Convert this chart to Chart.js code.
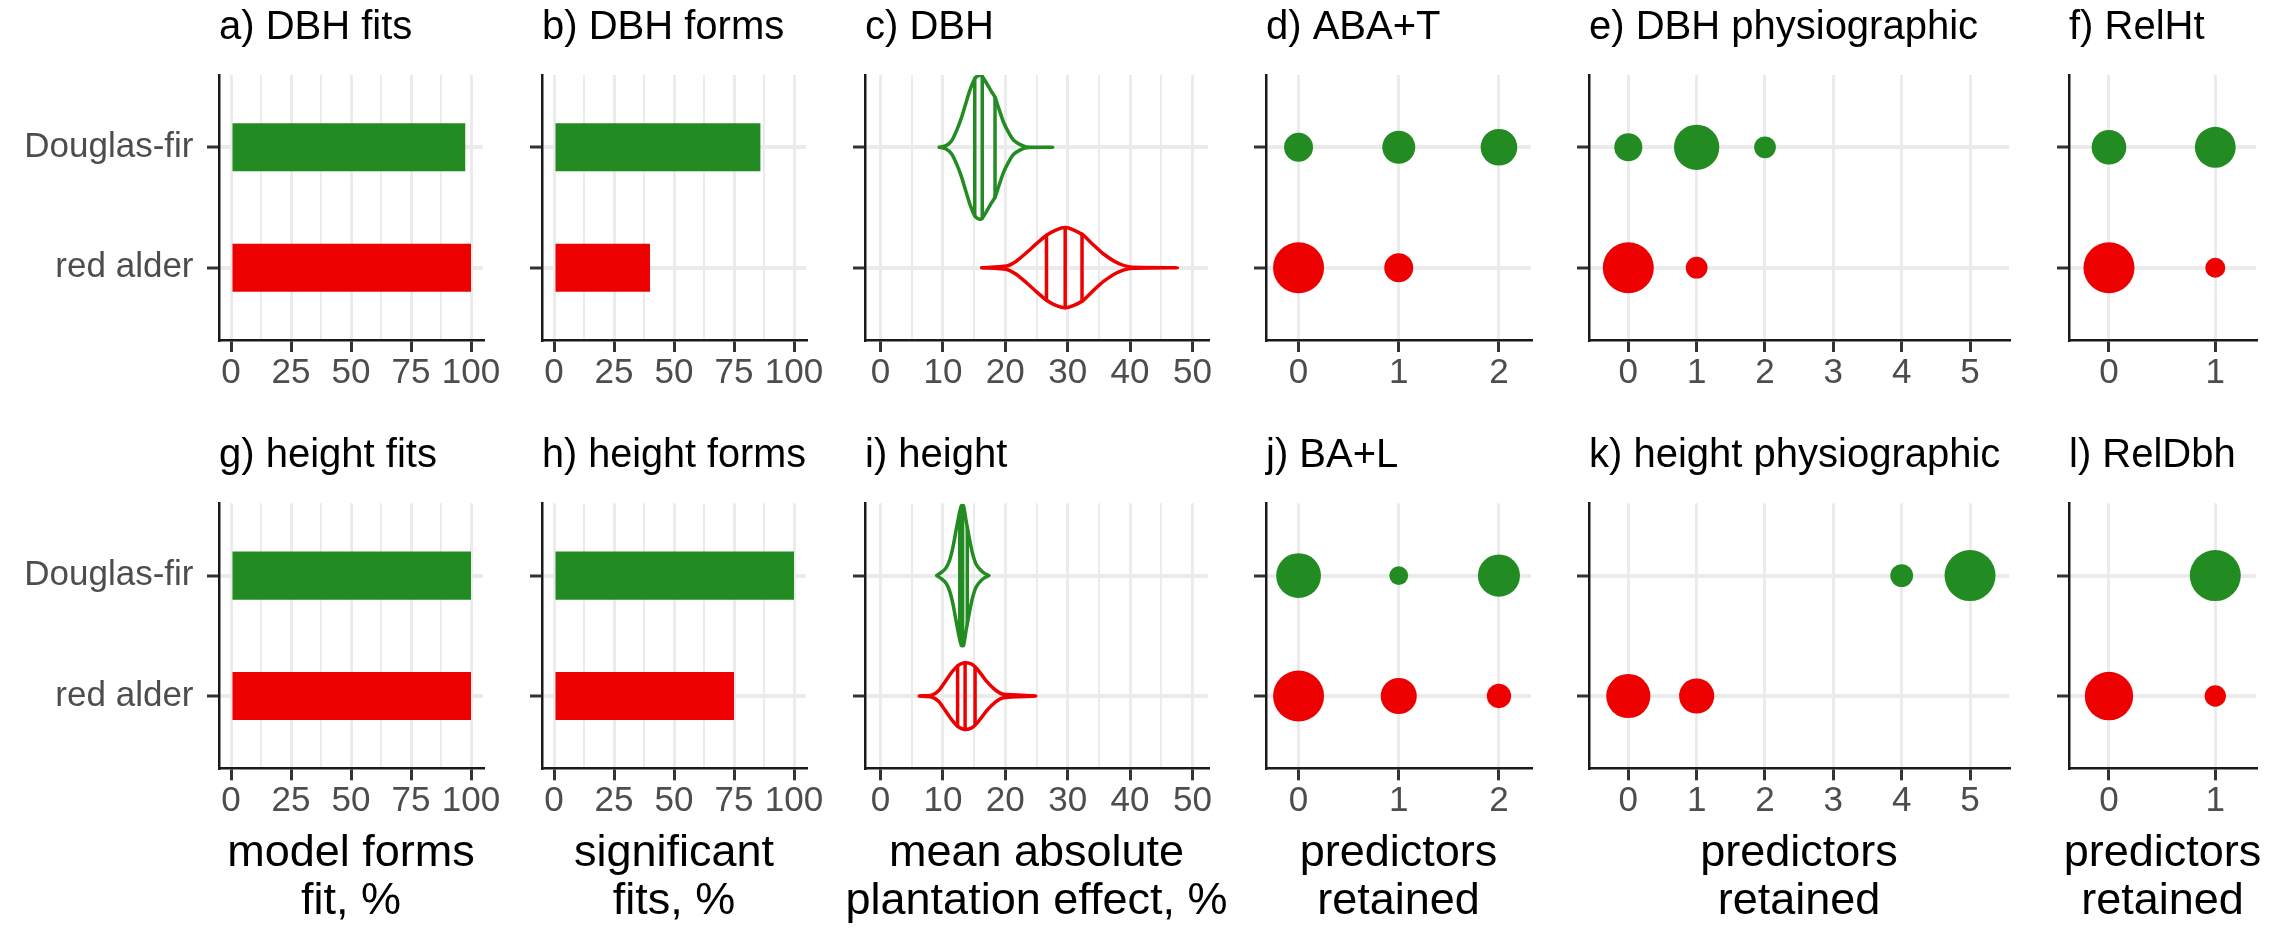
<!DOCTYPE html>
<html>
<head>
<meta charset="utf-8">
<script src="https://cdn.jsdelivr.net/npm/chart.js@4.4.1/dist/chart.umd.min.js"></script>
<style>
  html, body { margin: 0; padding: 0; background: #fff; }
  #figure { position: relative; width: 2288px; height: 928px; overflow: hidden; background: #fff; }
  #figure canvas { position: absolute; }
</style>
</head>
<body>
<div id="figure"></div>
<script>
/*
  Plantation effect summary, 12 panels (a-l).
  Rows: DBH (top) and height (bottom). y = 1 is Douglas-fir, y = 0 is red alder.
*/

const species = ['red alder', 'Douglas-fir'];

// tick labels
const pctTicks = [0, 25, 50, 75, 100];
const pctMinor = [12.5, 37.5, 62.5, 87.5];
const effectTicks = [0, 10, 20, 30, 40, 50];
const effectMinor = [5, 15, 25, 35, 45];
const retained0to2 = [0, 1, 2];
const retained0to5 = [0, 1, 2, 3, 4, 5];
const retained0to1 = [0, 1];

// percent bars, [Douglas-fir, red alder]
const dbhFits = [97.6, 100];
const dbhForms = [86, 40];
const heightFits = [100, 100];
const heightForms = [100, 75];

// violins: outline x (%), half width (share of row spacing), quantile lines
const dbhFirX = [9.4, 10.5, 11.4, 12.2, 13.0, 13.7, 14.3, 15.1, 15.7, 16.2, 16.9, 17.8, 18.35, 18.9, 19.7, 20.5, 21.3, 22.4, 23.4, 27.6];
const dbhFirW = [0, 0.014, 0.055, 0.14, 0.25, 0.37, 0.47, 0.57, 0.595, 0.595, 0.54, 0.46, 0.415, 0.33, 0.21, 0.125, 0.06, 0.022, 0.003, 0];
const dbhFirQ = [15.1, 16.3, 18.35];
const dbhFirQW = [0.57, 0.59, 0.415];
const dbhAlderX = [16.2, 20.2, 21.8, 23.4, 25.0, 26.6, 28.2, 29.6, 30.9, 32.5, 34.1, 35.7, 37.9, 40.0, 47.6];
const dbhAlderW = [0, 0.014, 0.056, 0.125, 0.2, 0.27, 0.315, 0.333, 0.315, 0.27, 0.19, 0.116, 0.042, 0.006, 0];
const dbhAlderQ = [26.6, 29.6, 32.3];
const dbhAlderQW = [0.27, 0.333, 0.28];

const htFirX = [9.0, 9.8, 10.5, 11.05, 11.6, 12.1, 12.5, 12.95, 13.3, 13.7, 14.2, 14.7, 15.3, 16.1, 16.8, 17.4];
const htFirW = [0, 0.028, 0.064, 0.125, 0.235, 0.374, 0.484, 0.58, 0.58, 0.457, 0.318, 0.193, 0.097, 0.042, 0.014, 0];
const htFirQ = [12.7, 13.15, 13.9];
const htFirQW = [0.53, 0.58, 0.4];
const htAlderX = [6.2, 8.2, 9.3, 10.35, 11.45, 12.5, 13.55, 14.65, 15.7, 17.05, 18.4, 19.7, 24.9];
const htAlderW = [0, 0.008, 0.044, 0.119, 0.2, 0.257, 0.277, 0.263, 0.21, 0.119, 0.05, 0.014, 0];
const htAlderQ = [12.35, 13.55, 15.15];
const htAlderQW = [0.25, 0.277, 0.24];

// predictors retained: x = number retained, n = fits
const abaTFirX = [0, 1, 2];
const abaTFirN = [10, 13, 16];
const abaTAlderX = [0, 1];
const abaTAlderN = [31, 10];

const dbhPhysioFirX = [0, 1, 2];
const dbhPhysioFirN = [10, 26, 6];
const dbhPhysioAlderX = [0, 1];
const dbhPhysioAlderN = [33, 6];

const relHtFirX = [0, 1];
const relHtFirN = [18, 25];
const relHtAlderX = [0, 1];
const relHtAlderN = [39, 6];

const baLFirX = [0, 1, 2];
const baLFirN = [17, 3, 15];
const baLAlderX = [0, 1, 2];
const baLAlderN = [22, 11, 5];

const htPhysioFirX = [4, 5];
const htPhysioFirN = [8, 40];
const htPhysioAlderX = [0, 1];
const htPhysioAlderN = [30, 19];

const relDbhFirX = [1];
const relDbhFirN = [40];
const relDbhAlderX = [0, 1];
const relDbhAlderN = [36, 7];

// styling
const GREEN = '#228B22';
const RED = '#EE0000';
const GRID = '#EBEBEB';
const TICK = '#333333';
const AXIS = '#1A1A1A';
const LABEL = '#4D4D4D';
const FONT = "'Liberation Sans', Arial, sans-serif";
const PAD_RIGHT = 40;
const R_MAX = 25.5;

Chart.defaults.font.family = FONT;

const rows = {
  top: { top: 0, height: 420, titleTop: 4.4, titleBottom: 22.6, axisHeight: 80 },
  bottom: { top: 420, height: 508, titleTop: 12.1, titleBottom: 23.2, axisHeight: 159.7, xTitleBaseline: 446, xTitleStep: 48 },
};

const columns = {
  fits: { x0: 219, x1: 483, yWidth: 219, min: -5, max: 105, ticks: pctTicks, minor: pctMinor },
  forms: { x0: 542, x1: 806, yWidth: 30, min: -5, max: 105, ticks: pctTicks, minor: pctMinor },
  effect: { x0: 865, x1: 1207.5, yWidth: 30, min: -2.5, max: 52.5, ticks: effectTicks, minor: effectMinor },
  base: { x0: 1265.7, x1: 1531, yWidth: 30, min: -0.325, max: 2.32, ticks: retained0to2, minor: [] },
  physio: { x0: 1589.2, x1: 2009.5, yWidth: 30, min: -0.575, max: 5.57, ticks: retained0to5, minor: [] },
  rel: { x0: 2068.7, x1: 2255.7, yWidth: 30, min: -0.376, max: 1.383, ticks: retained0to1, minor: [] },
};

const figure = document.getElementById('figure');

// x axis title drawn under the panel without width squeezing (long lines overhang the panel)
function axisTitlePlugin(lines, row) {
  return {
    id: 'axisTitle',
    afterDraw(chart) {
      if (!lines) return;
      const ctx = chart.ctx;
      const area = chart.chartArea;
      ctx.save();
      ctx.font = '45px ' + FONT;
      ctx.fillStyle = '#000';
      ctx.textAlign = 'center';
      ctx.textBaseline = 'alphabetic';
      const cx = (area.left + area.right) / 2;
      lines.forEach((line, i) => ctx.fillText(line, cx, row.xTitleBaseline + i * row.xTitleStep));
      ctx.restore();
    },
  };
}

function barData(values) {
  return [{
    data: [{ x: values[0], y: 1 }, { x: values[1], y: 0 }],
    backgroundColor: [GREEN, RED],
    borderWidth: 0,
    barPercentage: 0.4,
    categoryPercentage: 1,
  }];
}

function violin(xs, ws, qs, qws, row, color) {
  const upper = xs.map((x, i) => ({ x: x, y: row + ws[i] }));
  const lower = xs.slice(0, -1).map((x, i) => ({ x: x, y: row - ws[i] })).reverse();
  const line = { showLine: true, borderColor: color, borderWidth: 3.5, pointRadius: 0, fill: false, borderJoinStyle: 'round', borderCapStyle: 'round' };
  const sets = [Object.assign({ data: upper.concat(lower), tension: 0.2 }, line)];
  qs.forEach((q, i) => {
    sets.push(Object.assign({ data: [{ x: q, y: row - qws[i] }, { x: q, y: row + qws[i] }] }, line));
  });
  return sets;
}

function dots(xs, counts, row, color, nMax) {
  return {
    data: xs.map((x, i) => ({ x: x, y: row, r: R_MAX * Math.sqrt(counts[i] / nMax) })),
    backgroundColor: color,
    borderWidth: 0,
  };
}

function dotData(firX, firN, alderX, alderN) {
  const nMax = Math.max(...firN, ...alderN);
  return [dots(firX, firN, 1, GREEN, nMax), dots(alderX, alderN, 0, RED, nMax)];
}

function makePanel(col, row, title, type, datasets, axisTitle, showSpecies) {
  const canvas = document.createElement('canvas');
  const width = Math.round(col.yWidth + (col.x1 - col.x0) + PAD_RIGHT);
  canvas.width = width;
  canvas.height = row.height;
  canvas.style.left = (col.x0 - col.yWidth) + 'px';
  canvas.style.top = row.top + 'px';
  canvas.style.width = width + 'px';
  canvas.style.height = row.height + 'px';
  figure.appendChild(canvas);

  const allTicks = col.ticks.concat(col.minor).sort((a, b) => a - b);
  const isMajor = (c) => !c.tick || col.ticks.includes(c.tick.value);

  new Chart(canvas, {
    type: type,
    data: { datasets: datasets },
    options: {
      responsive: false,
      animation: false,
      events: [],
      indexAxis: type === 'bar' ? 'y' : 'x',
      layout: { padding: { left: 0, top: 0, right: PAD_RIGHT, bottom: 0 } },
      plugins: {
        legend: { display: false },
        tooltip: { enabled: false },
        title: {
          display: true,
          text: title,
          align: 'start',
          fullSize: false,
          color: '#000',
          font: { size: 40, weight: 'normal', lineHeight: 1.2 },
          padding: { top: row.titleTop, bottom: row.titleBottom },
        },
      },
      scales: {
        x: {
          type: 'linear',
          position: 'bottom',
          min: col.min,
          max: col.max,
          offset: false,
          afterBuildTicks: (s) => { s.ticks = allTicks.map((v) => ({ value: v })); },
          afterFit: (s) => { s.height = row.axisHeight; },
          ticks: {
            autoSkip: false,
            maxRotation: 0,
            minRotation: 0,
            padding: 0,
            color: LABEL,
            font: { size: 35 },
            callback: (v) => (col.ticks.includes(v) ? String(v) : ''),
          },
          grid: {
            color: GRID,
            offset: false,
            lineWidth: (c) => (isMajor(c) ? 3 : 2),
            drawTicks: true,
            tickLength: 12,
            tickWidth: 3,
            tickColor: (c) => (isMajor(c) ? TICK : 'rgba(0,0,0,0)'),
          },
          border: { display: true, color: AXIS, width: 2.5 },
          title: { display: false },
        },
        y: {
          type: 'linear',
          position: 'left',
          min: -0.6,
          max: 1.6,
          offset: false,
          afterBuildTicks: (s) => { s.ticks = [{ value: 0 }, { value: 1 }]; },
          afterFit: (s) => { s.width = col.yWidth; },
          ticks: {
            display: showSpecies,
            padding: 13.5,
            color: LABEL,
            font: { size: 35 },
            callback: (v) => species[v],
          },
          grid: {
            color: GRID,
            offset: false,
            lineWidth: 4,
            drawTicks: true,
            tickLength: 12,
            tickWidth: 3,
            tickColor: TICK,
          },
          border: { display: true, color: AXIS, width: 2.5 },
        },
      },
    },
    plugins: [axisTitlePlugin(axisTitle, row)],
  });
}

// top row: DBH
makePanel(columns.fits, rows.top, 'a) DBH fits', 'bar', barData(dbhFits), null, true);
makePanel(columns.forms, rows.top, 'b) DBH forms', 'bar', barData(dbhForms), null, false);
makePanel(columns.effect, rows.top, 'c) DBH', 'scatter',
  violin(dbhFirX, dbhFirW, dbhFirQ, dbhFirQW, 1, GREEN).concat(violin(dbhAlderX, dbhAlderW, dbhAlderQ, dbhAlderQW, 0, RED)), null, false);
makePanel(columns.base, rows.top, 'd) ABA+T', 'bubble', dotData(abaTFirX, abaTFirN, abaTAlderX, abaTAlderN), null, false);
makePanel(columns.physio, rows.top, 'e) DBH physiographic', 'bubble', dotData(dbhPhysioFirX, dbhPhysioFirN, dbhPhysioAlderX, dbhPhysioAlderN), null, false);
makePanel(columns.rel, rows.top, 'f) RelHt', 'bubble', dotData(relHtFirX, relHtFirN, relHtAlderX, relHtAlderN), null, false);

// bottom row: height
makePanel(columns.fits, rows.bottom, 'g) height fits', 'bar', barData(heightFits), ['model forms', 'fit, %'], true);
makePanel(columns.forms, rows.bottom, 'h) height forms', 'bar', barData(heightForms), ['significant', 'fits, %'], false);
makePanel(columns.effect, rows.bottom, 'i) height', 'scatter',
  violin(htFirX, htFirW, htFirQ, htFirQW, 1, GREEN).concat(violin(htAlderX, htAlderW, htAlderQ, htAlderQW, 0, RED)),
  ['mean absolute', 'plantation effect, %'], false);
makePanel(columns.base, rows.bottom, 'j) BA+L', 'bubble', dotData(baLFirX, baLFirN, baLAlderX, baLAlderN), ['predictors', 'retained'], false);
makePanel(columns.physio, rows.bottom, 'k) height physiographic', 'bubble', dotData(htPhysioFirX, htPhysioFirN, htPhysioAlderX, htPhysioAlderN), ['predictors', 'retained'], false);
makePanel(columns.rel, rows.bottom, 'l) RelDbh', 'bubble', dotData(relDbhFirX, relDbhFirN, relDbhAlderX, relDbhAlderN), ['predictors', 'retained'], false);
</script>
</body>
</html>
